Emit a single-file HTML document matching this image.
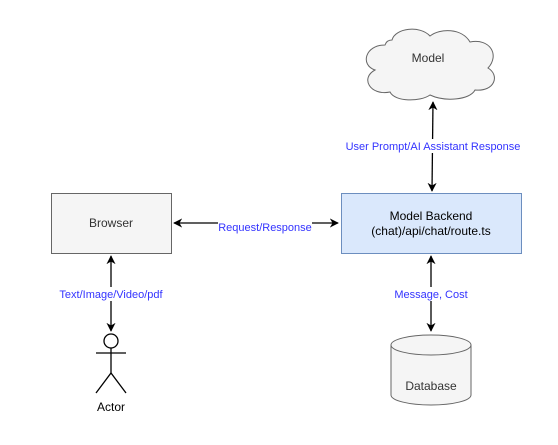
<!DOCTYPE html>
<html><head><style>body{margin:0;background:#fff}</style></head><body>
<svg width="558" height="440" xmlns="http://www.w3.org/2000/svg" font-family="Liberation Sans, sans-serif" font-size="12">
<defs><marker id="a" viewBox="0 0 10 10" refX="9" refY="5" markerWidth="7" markerHeight="7" orient="auto-start-reverse"><path d="M0,0 L10,5 L0,10 L3,5z" fill="#000"/></marker></defs>
<path d="M385,45 C365,45 360,65 375,70 C360,78 370,96 390,92 C395,102 420,102 430,95 C445,102 470,100 475,90 C495,92 500,75 488,68 C500,55 490,38 470,42 C462,28 440,28 430,36 C420,25 395,28 392,40 C388,40 386,42 385,45 Z" fill="#f5f5f5" stroke="#666"/>
<text x="428" y="62" text-anchor="middle" fill="#333">Model</text>
<rect x="51.5" y="193.5" width="120" height="60" fill="#f5f5f5" stroke="#666"/>
<text x="111" y="227" text-anchor="middle" fill="#333">Browser</text>
<rect x="341.5" y="193.5" width="180" height="60" fill="#dae8fc" stroke="#6c8ebf"/>
<text x="431" y="220" text-anchor="middle" fill="#000">Model Backend</text>
<text x="431" y="235" text-anchor="middle" fill="#000">(chat)/api/chat/route.ts</text>
<path d="M391,345 A40,10 0 0 1 471,345 L471,395 A40,10 0 0 1 391,395 Z" fill="#f5f5f5" stroke="#666"/>
<path d="M391,345 A40,10 0 0 0 471,345" fill="none" stroke="#666"/>
<text x="431" y="390" text-anchor="middle" fill="#333">Database</text>
<g stroke="#000" stroke-width="1.3" fill="none">
<line x1="174" y1="223" x2="338" y2="223" marker-start="url(#a)" marker-end="url(#a)"/>
<line x1="111" y1="256" x2="111" y2="331" marker-start="url(#a)" marker-end="url(#a)"/>
<line x1="433" y1="102" x2="432" y2="191" marker-start="url(#a)" marker-end="url(#a)"/>
<line x1="431" y1="256" x2="431" y2="331" marker-start="url(#a)" marker-end="url(#a)"/>
<circle cx="111" cy="341" r="7" fill="#fff"/>
<line x1="111" y1="348" x2="111" y2="373"/>
<line x1="96" y1="353" x2="126" y2="353"/>
<path d="M96,393 L111,373 L126,393"/>
</g>
<g fill="#3333ff" font-size="11" text-anchor="middle">
<rect x="218" y="216" width="94" height="14" fill="#fff"/>
<text x="265" y="231">Request/Response</text>
<rect x="60" y="287" width="102" height="14" fill="#fff"/>
<text x="111" y="298">Text/Image/Video/pdf</text>
<rect x="345" y="139" width="176" height="14" fill="#fff"/>
<text x="433" y="150">User Prompt/AI Assistant Response</text>
<rect x="393" y="287" width="76" height="14" fill="#fff"/>
<text x="431" y="298">Message, Cost</text>
</g>
<text x="111" y="411" text-anchor="middle" fill="#000">Actor</text>
</svg>
</body></html>
